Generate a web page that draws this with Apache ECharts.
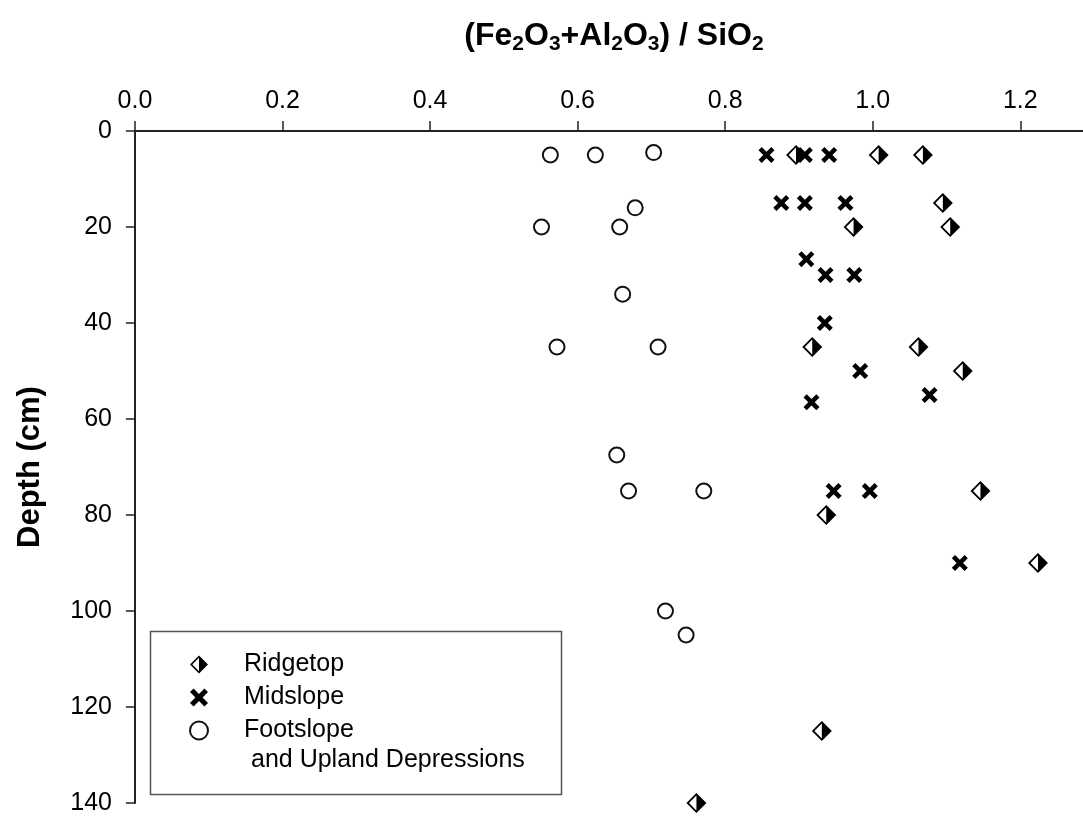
<!DOCTYPE html>
<html><head><meta charset="utf-8">
<script src="https://cdn.jsdelivr.net/npm/echarts@6/dist/echarts.min.js"></script>
<style>html,body{margin:0;padding:0;background:#fff}#c{width:1083px;height:816px}</style>
</head><body><div id="c"></div>
<script>
// ---- data ----
const seriesNames = ['Ridgetop', 'Midslope', 'Footslope'];
const legendSecondLine = 'and Upland Depressions';
const yAxisTitle = 'Depth (cm)';
const xTicks = [0.0, 0.2, 0.4, 0.6, 0.8, 1.0, 1.2];
const yTicks = [0, 20, 40, 60, 80, 100, 120, 140];

const ridgetopRatio = [0.896, 1.008, 1.068, 1.095, 0.974, 1.105, 0.918, 1.062, 1.122, 1.146, 0.937, 1.224, 0.931, 0.761];
const ridgetopDepth = [5, 5, 5, 15, 20, 20, 45, 45, 50, 75, 80, 90, 125, 140];

const midslopeRatio = [0.856, 0.908, 0.941, 0.876, 0.908, 0.963, 0.910, 0.936, 0.975, 0.935, 0.983, 0.917, 1.077, 0.947, 0.996, 1.118];
const midslopeDepth = [5, 5, 5, 15, 15, 15, 26.7, 30, 30, 40, 50, 56.5, 55, 75, 75, 90];

const footslopeRatio = [0.563, 0.624, 0.703, 0.678, 0.551, 0.657, 0.661, 0.572, 0.709, 0.653, 0.669, 0.771, 0.719, 0.747];
const footslopeDepth = [5, 5, 4.5, 16, 20, 20, 34, 45, 45, 67.5, 75, 75, 100, 105];

// ---- chart ----
const FONT = '"Liberation Sans", Arial, Helvetica, sans-serif';
const zip = (xs, ys) => xs.map((x, i) => [x, ys[i]]);
const diamondHalf = 'path://M10,0 L20,10 L10,20 L0,10 Z M10,2.6 L2.6,10 L10,17.4 Z';
const boldX = 'path://M0,2 L2,0 L5,3 L8,0 L10,2 L7,5 L10,8 L8,10 L5,7 L2,10 L0,8 L3,5 Z';
const axisColor = '#222';

const chart = echarts.init(document.getElementById('c'), null, {renderer: 'canvas'});
chart.setOption({
  animation: false,
  backgroundColor: '#fff',
  title: {
    text: '{a|(Fe}{s|2}{a|O}{s|3}{a|+Al}{s|2}{a|O}{s|3}{a|) / SiO}{s|2}',
    left: 614, top: 17, padding: 0, textAlign: 'center',
    textStyle: {
      rich: {
        a: {fontSize: 32, fontWeight: 'bold', fontFamily: FONT, color: '#000', lineHeight: 38},
        s: {fontSize: 21, fontWeight: 'bold', fontFamily: FONT, color: '#000', lineHeight: 18, verticalAlign: 'bottom'}
      }
    }
  },
  grid: {left: 135, right: 0, top: 131, bottom: 13, containLabel: false, outerBoundsMode: 'none'},
  xAxis: {
    type: 'value', position: 'top', min: xTicks[0], max: 1.285, interval: 0.2,
    axisLine: {show: true, onZero: false, lineStyle: {color: axisColor, width: 2}},
    axisTick: {show: true, inside: false, length: 10, lineStyle: {color: axisColor, width: 1.5}},
    axisLabel: {show: true, margin: 17, fontSize: 25, fontFamily: FONT, color: '#000',
      showMaxLabel: false, formatter: v => v.toFixed(1)},
    splitLine: {show: false}
  },
  yAxis: {
    type: 'value', inverse: true, min: yTicks[0], max: yTicks[yTicks.length - 1], interval: 20,
    name: yAxisTitle, nameLocation: 'middle', nameGap: 89, nameRotate: 90,
    nameTextStyle: {fontSize: 31, fontWeight: 'bold', fontFamily: FONT, color: '#000'},
    axisLine: {show: true, onZero: false, lineStyle: {color: axisColor, width: 2}},
    axisTick: {show: true, inside: false, length: 9, lineStyle: {color: axisColor, width: 1.5}},
    axisLabel: {show: true, margin: 23, fontSize: 25, fontFamily: FONT, color: '#000'},
    splitLine: {show: false}
  },
  legend: {
    orient: 'vertical', left: 189, top: 652, padding: 0, itemGap: 8,
    itemWidth: 18, itemHeight: 18, selectedMode: false,
    data: [
      {name: seriesNames[0], icon: diamondHalf},
      {name: seriesNames[1], icon: boldX},
      {name: seriesNames[2], icon: 'circle'}
    ],
    textStyle: {fontSize: 25, fontFamily: FONT, color: '#000', padding: [0, 0, 0, 31]}
  },
  graphic: [
    {type: 'rect', left: 148, top: 629, z: 0, silent: true,
      shape: {width: 411, height: 163},
      style: {fill: 'none', stroke: '#555', lineWidth: 1.5}},
    {type: 'text', left: 251, top: 748, z: 10, silent: true,
      style: {text: legendSecondLine, fontSize: 25, fontFamily: FONT, fill: '#000'}}
  ],
  series: [
    {name: seriesNames[0], type: 'scatter', data: zip(ridgetopRatio, ridgetopDepth),
      symbol: diamondHalf, symbolSize: 20, z: 2,
      itemStyle: {color: '#000', opacity: 1}},
    {name: seriesNames[1], type: 'scatter', data: zip(midslopeRatio, midslopeDepth),
      symbol: boldX, symbolSize: 16, z: 3,
      itemStyle: {color: '#000', opacity: 1}},
    {name: seriesNames[2], type: 'scatter', data: zip(footslopeRatio, footslopeDepth),
      symbol: 'circle', symbolSize: 15, z: 4,
      itemStyle: {color: '#fff', borderColor: '#111', borderWidth: 2, opacity: 1}}
  ]
});
</script>
</body></html>
